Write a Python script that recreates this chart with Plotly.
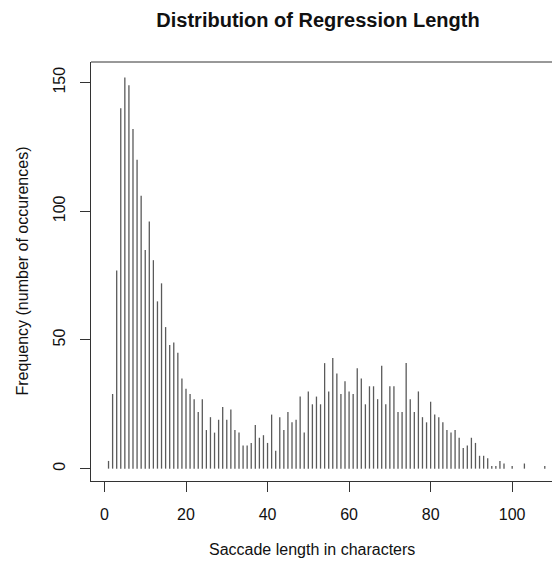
import plotly.graph_objects as go

# Regression saccade lengths (characters) and how often each occurred
lengths = list(range(1, 109))
counts = [
    3, 29, 77, 140, 152, 149, 132, 120, 106, 85,
    96, 81, 65, 72, 55, 48, 49, 45, 35, 31,
    29, 27, 22, 27, 15, 20, 14, 19, 24, 19,
    23, 15, 14, 9, 9, 10, 17, 12, 13, 10,
    21, 7, 20, 15, 22, 18, 19, 28, 14, 30,
    25, 28, 25, 41, 30, 43, 37, 29, 34, 30,
    29, 39, 35, 25, 32, 32, 27, 40, 25, 32,
    32, 22, 22, 41, 27, 22, 30, 20, 18, 26,
    21, 20, 18, 15, 14, 15, 12, 8, 9, 12,
    10, 5, 5, 4, 1, 1, 3, 2, 0, 1,
    0, 0, 2, 0, 0, 0, 0, 1,
]
x_ticks = [0, 20, 40, 60, 80, 100]
y_ticks = [0, 50, 100, 150]

# Histogram-style vertical spikes (one segment per length)
xs, ys = [], []
for x, c in zip(lengths, counts):
    if c > 0:
        xs += [x, x, None]
        ys += [0, c, None]

W, H = 552, 562
L, T, B = 91, 62, 81
plot_w = W - L
plot_h = H - T - B

fig = go.Figure(
    go.Scatter(
        x=xs, y=ys, mode="lines",
        line=dict(color="#5a5a5a", width=1.3),
        hoverinfo="skip", showlegend=False,
    )
)

font = "Liberation Sans, Arial, Helvetica, sans-serif"
axis_common = dict(
    showgrid=False, zeroline=False, showline=True, linecolor="#333",
    linewidth=1, ticks="outside", ticklen=10, tickcolor="#333",
    tickwidth=1, tickfont=dict(size=16, color="#111", family=font),
    mirror=False,
)

fig.update_layout(
    width=W, height=H,
    margin=dict(l=L, r=0, t=T, b=B, pad=0),
    paper_bgcolor="white", plot_bgcolor="white",
    xaxis=dict(range=[-3.3, 109.77], tickvals=x_ticks,
               ticktext=[str(v) for v in x_ticks], ticklabelstandoff=9,
               **axis_common),
    yaxis=dict(range=[-4.8, 158.0], tickvals=y_ticks,
               ticktext=[str(v) for v in y_ticks], tickangle=-90,
               ticklabelstandoff=9, **axis_common),
    title=dict(
        text="<b>Distribution of Regression Length</b>",
        x=318 / W, xanchor="center", y=1 - 20 / H, yanchor="middle",
        font=dict(size=20, color="#111", family=font),
    ),
    shapes=[
        # top edge of the frame (the right edge lies past the page)
        dict(type="line", xref="paper", yref="paper", x0=0, x1=1, y0=1, y1=1,
             line=dict(color="#333", width=1)),
    ],
    annotations=[
        dict(text="Saccade length in characters", xref="paper", yref="paper",
             x=(312 - L) / plot_w, y=(T + plot_h - 549) / plot_h,
             xanchor="center", yanchor="middle", showarrow=False,
             font=dict(size=16, color="#111", family=font)),
        dict(text="Frequency (number of occurences)", xref="paper", yref="paper",
             x=(22 - L) / plot_w, y=0.5, textangle=-90,
             xanchor="center", yanchor="middle", showarrow=False,
             font=dict(size=16, color="#111", family=font)),
    ],
)

fig.write_html("out.html")
